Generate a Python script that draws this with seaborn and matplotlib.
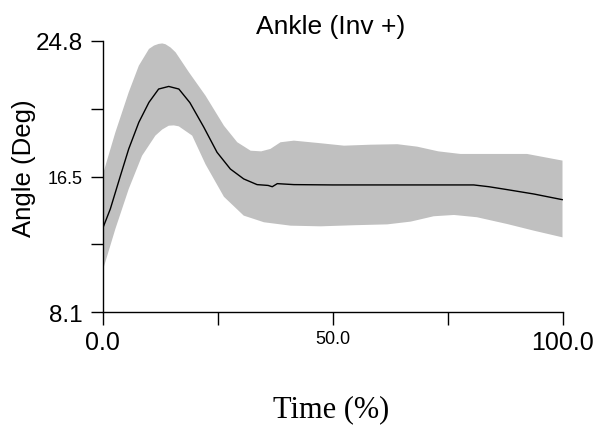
import numpy as np
import pandas as pd
import matplotlib
matplotlib.use("Agg")
import matplotlib.pyplot as plt
import seaborn as sns

# ---- data ----
mean_t = [0, 1.7, 3.9, 5.7, 7.9, 10.1, 12.2, 14.4, 16.6, 19.0, 22.0, 24.9, 27.8, 30.7,
          33.6, 36.0, 36.9, 38.0, 41.6, 50, 60, 70, 80.7, 84, 88, 93.8, 100]
mean_v = [13.22, 14.45, 16.5, 18.15, 19.79, 21.02, 21.84, 22.0, 21.84, 21.0, 19.5, 17.94,
          16.91, 16.3, 15.95, 15.9, 15.82, 16.01, 15.95, 15.93, 15.93, 15.93, 15.93,
          15.82, 15.64, 15.37, 15.02]

upper_t = [0, 2.8, 5.7, 7.9, 10.1, 11.2, 12.2, 13.0, 13.7, 14.8, 15.9, 18.8, 22.4, 26.4,
           29.3, 32.2, 34.5, 36.5, 38.7, 41.6, 47.4, 52.5, 58.3, 64.1, 68.4, 73, 77.8,
           92.3, 100]
upper_v = [16.5, 19.17, 21.64, 23.28, 24.31, 24.52, 24.62, 24.65, 24.6, 24.4, 24.1, 22.87,
           21.43, 19.58, 18.56, 18.04, 18.0, 18.15, 18.56, 18.66, 18.5, 18.35, 18.41,
           18.44, 18.29, 18.0, 17.84, 17.84, 17.43]

lower_t = [0, 2.8, 5.7, 8.6, 11.5, 13.0, 14.4, 15.5, 16.6, 19.5, 22.4, 26.4, 30.7, 35.1,
           40.9, 47.4, 55, 61.9, 67, 72, 76.4, 81.4, 88, 93.8, 100]
lower_v = [10.6, 13.22, 15.68, 17.73, 18.97, 19.35, 19.58, 19.6, 19.54, 18.97, 17.2, 15.2,
           14.04, 13.63, 13.42, 13.38, 13.45, 13.5, 13.67, 14.0, 14.08, 13.94, 13.52,
           13.11, 12.7]

x_ticks = [0, 25, 50, 75, 100]
x_labels = ["0.0", "", "50.0", "", "100.0"]
y_ticks = [8.1, 12.275, 16.45, 20.625, 24.8]
y_labels = ["8.1", "", "16.5", "", "24.8"]

title = "Ankle (Inv +)"
ylabel = "Angle (Deg)"
xlabel = "Time (%)"

# ---- drawing ----
sns.set_theme(style="white")
plt.rcParams['font.family'] = ['Liberation Sans', 'DejaVu Sans']

W, H = 599, 431
fig = plt.figure(figsize=(W / 100, H / 100), dpi=100)
ax = fig.add_axes([102.5 / W, 1 - 313 / H, 460 / W, 271 / H])

band_x = np.concatenate([upper_t, lower_t[::-1]])
band_y = np.concatenate([upper_v, lower_v[::-1]])
ax.fill(band_x, band_y, color="#c0c0c0", lw=0, zorder=1)

df = pd.DataFrame({"t": mean_t, "v": mean_v})
sns.lineplot(data=df, x="t", y="v", color="black", lw=1.0, ax=ax, zorder=3)

ax.set_xlim(0, 100)
ax.set_ylim(8.1, 24.8)
ax.set_xticks(x_ticks, x_labels)
ax.set_yticks(y_ticks, y_labels)
ax.set_xlabel("")
ax.set_ylabel("")

for s in ["top", "right"]:
    ax.spines[s].set_visible(False)
for s in ["left", "bottom"]:
    ax.spines[s].set_color("black")
    ax.spines[s].set_linewidth(1.0)

ax.tick_params(axis="both", direction="out", length=9, width=1.0, color="black",
               labelcolor="black", bottom=True, left=True)
ax.tick_params(axis="x", pad=4)
ax.tick_params(axis="y", pad=5)

for lbl in ax.get_xticklabels():
    lbl.set_fontsize(13 if lbl.get_text() == "50.0" else 18)
for lbl in ax.get_yticklabels():
    lbl.set_fontsize(13 if lbl.get_text() == "16.5" else 17.5)

fig.text(331 / W, 1 - 27 / H, title, ha="center", va="center", fontsize=19, color="black")
fig.text(24 / W, 1 - 168 / H, ylabel, ha="center", va="center", rotation=90,
         fontsize=18.5, color="black")
fig.text(331 / W, 1 - 410 / H, xlabel, ha="center", va="center", fontsize=22,
         color="black", family=["Liberation Serif", "DejaVu Serif"])

fig.savefig("out.png", dpi=100)
